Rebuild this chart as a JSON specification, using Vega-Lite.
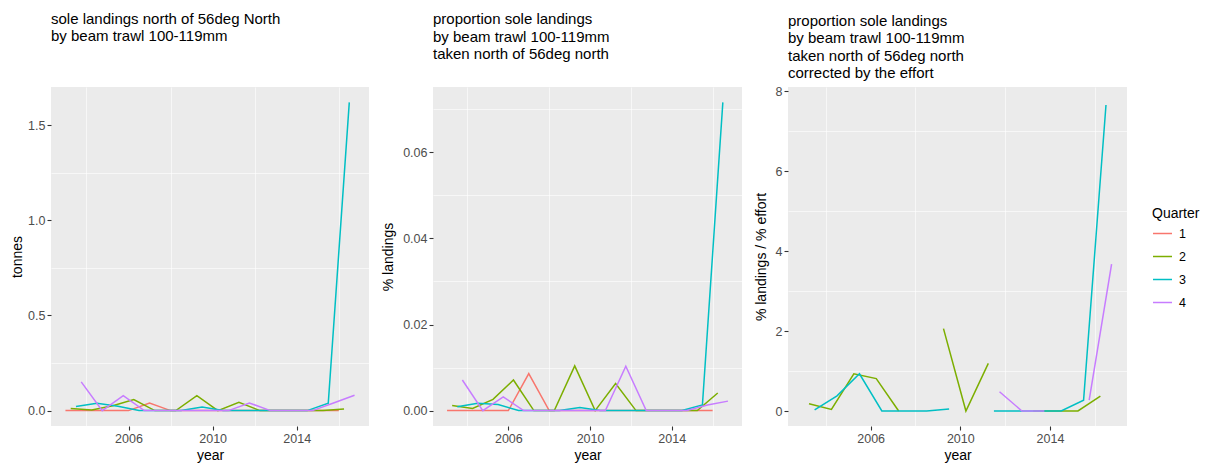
{
  "$schema": "https://vega.github.io/schema/vega-lite/v6.json",
  "padding": {"left": 10, "top": 11, "right": 0, "bottom": 0},
  "spacing": 12,
  "datasets": {
    "tonnes": [
      {"time": 2003.0, "Quarter": "1", "v": 0}, {"time": 2004.0, "Quarter": "1", "v": 0}, {"time": 2005.0, "Quarter": "1", "v": 0}, {"time": 2006.0, "Quarter": "1", "v": 0}, {"time": 2007.0, "Quarter": "1", "v": 0.04}, {"time": 2008.0, "Quarter": "1", "v": 0}, {"time": 2009.0, "Quarter": "1", "v": 0}, {"time": 2010.0, "Quarter": "1", "v": 0}, {"time": 2011.0, "Quarter": "1", "v": 0}, {"time": 2012.0, "Quarter": "1", "v": 0}, {"time": 2013.0, "Quarter": "1", "v": 0}, {"time": 2014.0, "Quarter": "1", "v": 0}, {"time": 2015.0, "Quarter": "1", "v": 0}, {"time": 2016.0, "Quarter": "1", "v": 0},
      {"time": 2003.25, "Quarter": "2", "v": 0.011}, {"time": 2004.25, "Quarter": "2", "v": 0.003}, {"time": 2005.25, "Quarter": "2", "v": 0.025}, {"time": 2006.25, "Quarter": "2", "v": 0.058}, {"time": 2007.25, "Quarter": "2", "v": 0}, {"time": 2008.25, "Quarter": "2", "v": 0}, {"time": 2009.25, "Quarter": "2", "v": 0.079}, {"time": 2010.25, "Quarter": "2", "v": 0}, {"time": 2011.25, "Quarter": "2", "v": 0.044}, {"time": 2012.25, "Quarter": "2", "v": 0}, {"time": 2013.25, "Quarter": "2", "v": 0}, {"time": 2014.25, "Quarter": "2", "v": 0}, {"time": 2015.25, "Quarter": "2", "v": 0}, {"time": 2016.25, "Quarter": "2", "v": 0.008},
      {"time": 2003.5, "Quarter": "3", "v": 0.021}, {"time": 2004.5, "Quarter": "3", "v": 0.039}, {"time": 2005.5, "Quarter": "3", "v": 0.023}, {"time": 2006.5, "Quarter": "3", "v": 0}, {"time": 2007.5, "Quarter": "3", "v": 0}, {"time": 2008.5, "Quarter": "3", "v": 0}, {"time": 2009.5, "Quarter": "3", "v": 0.019}, {"time": 2010.5, "Quarter": "3", "v": 0}, {"time": 2011.5, "Quarter": "3", "v": 0}, {"time": 2012.5, "Quarter": "3", "v": 0}, {"time": 2013.5, "Quarter": "3", "v": 0}, {"time": 2014.5, "Quarter": "3", "v": 0}, {"time": 2015.5, "Quarter": "3", "v": 0.039}, {"time": 2016.5, "Quarter": "3", "v": 1.62},
      {"time": 2003.75, "Quarter": "4", "v": 0.151}, {"time": 2004.75, "Quarter": "4", "v": 0}, {"time": 2005.75, "Quarter": "4", "v": 0.079}, {"time": 2006.75, "Quarter": "4", "v": 0}, {"time": 2007.75, "Quarter": "4", "v": 0}, {"time": 2008.75, "Quarter": "4", "v": 0}, {"time": 2009.75, "Quarter": "4", "v": 0}, {"time": 2010.75, "Quarter": "4", "v": 0}, {"time": 2011.75, "Quarter": "4", "v": 0.04}, {"time": 2012.75, "Quarter": "4", "v": 0}, {"time": 2013.75, "Quarter": "4", "v": 0}, {"time": 2014.75, "Quarter": "4", "v": 0}, {"time": 2015.75, "Quarter": "4", "v": 0.04}, {"time": 2016.75, "Quarter": "4", "v": 0.081}
    ],
    "proportion": [
      {"time": 2003.0, "Quarter": "1", "v": 0}, {"time": 2004.0, "Quarter": "1", "v": 0}, {"time": 2005.0, "Quarter": "1", "v": 0}, {"time": 2006.0, "Quarter": "1", "v": 0}, {"time": 2007.0, "Quarter": "1", "v": 0.0086}, {"time": 2008.0, "Quarter": "1", "v": 0}, {"time": 2009.0, "Quarter": "1", "v": 0}, {"time": 2010.0, "Quarter": "1", "v": 0}, {"time": 2011.0, "Quarter": "1", "v": 0}, {"time": 2012.0, "Quarter": "1", "v": 0}, {"time": 2013.0, "Quarter": "1", "v": 0}, {"time": 2014.0, "Quarter": "1", "v": 0}, {"time": 2015.0, "Quarter": "1", "v": 0}, {"time": 2016.0, "Quarter": "1", "v": 0},
      {"time": 2003.25, "Quarter": "2", "v": 0.0012}, {"time": 2004.25, "Quarter": "2", "v": 0.0005}, {"time": 2005.25, "Quarter": "2", "v": 0.0026}, {"time": 2006.25, "Quarter": "2", "v": 0.0071}, {"time": 2007.25, "Quarter": "2", "v": 0}, {"time": 2008.25, "Quarter": "2", "v": 0}, {"time": 2009.25, "Quarter": "2", "v": 0.0104}, {"time": 2010.25, "Quarter": "2", "v": 0}, {"time": 2011.25, "Quarter": "2", "v": 0.0063}, {"time": 2012.25, "Quarter": "2", "v": 0}, {"time": 2013.25, "Quarter": "2", "v": 0}, {"time": 2014.25, "Quarter": "2", "v": 0}, {"time": 2015.25, "Quarter": "2", "v": 0}, {"time": 2016.25, "Quarter": "2", "v": 0.0041},
      {"time": 2003.5, "Quarter": "3", "v": 0.0009}, {"time": 2004.5, "Quarter": "3", "v": 0.0017}, {"time": 2005.5, "Quarter": "3", "v": 0.0014}, {"time": 2006.5, "Quarter": "3", "v": 0}, {"time": 2007.5, "Quarter": "3", "v": 0}, {"time": 2008.5, "Quarter": "3", "v": 0}, {"time": 2009.5, "Quarter": "3", "v": 0.0007}, {"time": 2010.5, "Quarter": "3", "v": 0}, {"time": 2011.5, "Quarter": "3", "v": 0}, {"time": 2012.5, "Quarter": "3", "v": 0}, {"time": 2013.5, "Quarter": "3", "v": 0}, {"time": 2014.5, "Quarter": "3", "v": 0}, {"time": 2015.5, "Quarter": "3", "v": 0.0013}, {"time": 2016.5, "Quarter": "3", "v": 0.0716},
      {"time": 2003.75, "Quarter": "4", "v": 0.0071}, {"time": 2004.75, "Quarter": "4", "v": 0}, {"time": 2005.75, "Quarter": "4", "v": 0.0032}, {"time": 2006.75, "Quarter": "4", "v": 0}, {"time": 2007.75, "Quarter": "4", "v": 0}, {"time": 2008.75, "Quarter": "4", "v": 0}, {"time": 2009.75, "Quarter": "4", "v": 0}, {"time": 2010.75, "Quarter": "4", "v": 0}, {"time": 2011.75, "Quarter": "4", "v": 0.0103}, {"time": 2012.75, "Quarter": "4", "v": 0}, {"time": 2013.75, "Quarter": "4", "v": 0}, {"time": 2014.75, "Quarter": "4", "v": 0}, {"time": 2015.75, "Quarter": "4", "v": 0.0013}, {"time": 2016.75, "Quarter": "4", "v": 0.0022}
    ],
    "corrected": [
      {"time": 2003.0, "Quarter": "1", "v": null}, {"time": 2004.0, "Quarter": "1", "v": null}, {"time": 2005.0, "Quarter": "1", "v": null}, {"time": 2006.0, "Quarter": "1", "v": null}, {"time": 2007.0, "Quarter": "1", "v": null}, {"time": 2008.0, "Quarter": "1", "v": null}, {"time": 2009.0, "Quarter": "1", "v": null}, {"time": 2010.0, "Quarter": "1", "v": null}, {"time": 2011.0, "Quarter": "1", "v": null}, {"time": 2012.0, "Quarter": "1", "v": null}, {"time": 2013.0, "Quarter": "1", "v": null}, {"time": 2014.0, "Quarter": "1", "v": null}, {"time": 2015.0, "Quarter": "1", "v": null}, {"time": 2016.0, "Quarter": "1", "v": null},
      {"time": 2003.25, "Quarter": "2", "v": 0.18}, {"time": 2004.25, "Quarter": "2", "v": 0.04}, {"time": 2005.25, "Quarter": "2", "v": 0.93}, {"time": 2006.25, "Quarter": "2", "v": 0.81}, {"time": 2007.25, "Quarter": "2", "v": 0}, {"time": 2008.25, "Quarter": "2", "v": null}, {"time": 2009.25, "Quarter": "2", "v": 2.06}, {"time": 2010.25, "Quarter": "2", "v": 0}, {"time": 2011.25, "Quarter": "2", "v": 1.19}, {"time": 2012.25, "Quarter": "2", "v": null}, {"time": 2013.25, "Quarter": "2", "v": 0}, {"time": 2014.25, "Quarter": "2", "v": 0}, {"time": 2015.25, "Quarter": "2", "v": 0}, {"time": 2016.25, "Quarter": "2", "v": 0.37},
      {"time": 2003.5, "Quarter": "3", "v": 0.03}, {"time": 2004.5, "Quarter": "3", "v": 0.38}, {"time": 2005.5, "Quarter": "3", "v": 0.93}, {"time": 2006.5, "Quarter": "3", "v": 0}, {"time": 2007.5, "Quarter": "3", "v": 0}, {"time": 2008.5, "Quarter": "3", "v": 0}, {"time": 2009.5, "Quarter": "3", "v": 0.05}, {"time": 2010.5, "Quarter": "3", "v": null}, {"time": 2011.5, "Quarter": "3", "v": 0}, {"time": 2012.5, "Quarter": "3", "v": 0}, {"time": 2013.5, "Quarter": "3", "v": 0}, {"time": 2014.5, "Quarter": "3", "v": 0}, {"time": 2015.5, "Quarter": "3", "v": 0.27}, {"time": 2016.5, "Quarter": "3", "v": 7.65},
      {"time": 2003.75, "Quarter": "4", "v": null}, {"time": 2004.75, "Quarter": "4", "v": null}, {"time": 2005.75, "Quarter": "4", "v": null}, {"time": 2006.75, "Quarter": "4", "v": null}, {"time": 2007.75, "Quarter": "4", "v": null}, {"time": 2008.75, "Quarter": "4", "v": null}, {"time": 2009.75, "Quarter": "4", "v": null}, {"time": 2010.75, "Quarter": "4", "v": null}, {"time": 2011.75, "Quarter": "4", "v": 0.48}, {"time": 2012.75, "Quarter": "4", "v": 0}, {"time": 2013.75, "Quarter": "4", "v": 0}, {"time": 2014.75, "Quarter": "4", "v": null}, {"time": 2015.75, "Quarter": "4", "v": 0.27}, {"time": 2016.75, "Quarter": "4", "v": 3.67}
    ]
  },
  "hconcat": [
    {
      "width": 318,
      "height": 339,
      "title": {"text": ["sole landings north of 56deg North", "by beam trawl 100-119mm"], "offset": 43},
      "data": {"name": "tonnes"},
      "resolve": {"axis": {"x": "independent", "y": "independent"}},
      "layer": [
        {
          "mark": {"type": "line", "strokeOpacity": 0},
          "encoding": {
            "x": {"field": "time", "type": "quantitative", "scale": {"domain": [2002.3125, 2017.4375], "nice": false, "zero": false},
                  "axis": {"orient": "top", "values": [2004, 2008, 2012, 2016], "labels": false, "ticks": false, "title": null, "gridWidth": 0.6}},
            "y": {"field": "v", "type": "quantitative", "scale": {"domain": [-0.081, 1.701], "nice": false, "zero": false},
                  "axis": {"orient": "right", "values": [0.25, 0.75, 1.25], "labels": false, "ticks": false, "title": null, "gridWidth": 0.6}},
            "detail": {"field": "Quarter"}
          }
        },
        {
          "mark": {"type": "line", "strokeWidth": 1.5},
          "encoding": {
            "x": {"field": "time", "type": "quantitative", "scale": {"domain": [2002.3125, 2017.4375], "nice": false, "zero": false},
                  "axis": {"values": [2006, 2010, 2014], "format": "d", "title": "year"}},
            "y": {"field": "v", "type": "quantitative", "scale": {"domain": [-0.081, 1.701], "nice": false, "zero": false},
                  "axis": {"values": [0, 0.5, 1, 1.5], "format": ".1f", "title": "tonnes", "titlePadding": 3}},
            "color": {"field": "Quarter", "type": "nominal", "scale": {"domain": ["1", "2", "3", "4"], "range": ["#F8766D", "#7CAE00", "#00BFC4", "#C77CFF"]},
                      "legend": {"orient": "none", "legendX": 1101, "legendY": 120}}
          }
        }
      ]
    },
    {
      "width": 309,
      "height": 339,
      "title": {"text": ["proportion sole landings", "by beam trawl 100-119mm", "taken north of 56deg north"], "offset": 25},
      "data": {"name": "proportion"},
      "resolve": {"axis": {"x": "independent", "y": "independent"}},
      "layer": [
        {
          "mark": {"type": "line", "strokeOpacity": 0},
          "encoding": {
            "x": {"field": "time", "type": "quantitative", "scale": {"domain": [2002.3125, 2017.4375], "nice": false, "zero": false},
                  "axis": {"orient": "top", "values": [2004, 2008, 2012, 2016], "labels": false, "ticks": false, "title": null, "gridWidth": 0.6}},
            "y": {"field": "v", "type": "quantitative", "scale": {"domain": [-0.00358, 0.07518], "nice": false, "zero": false},
                  "axis": {"orient": "right", "values": [0.01, 0.03, 0.05, 0.07], "labels": false, "ticks": false, "title": null, "gridWidth": 0.6}},
            "detail": {"field": "Quarter"}
          }
        },
        {
          "mark": {"type": "line", "strokeWidth": 1.5},
          "encoding": {
            "x": {"field": "time", "type": "quantitative", "scale": {"domain": [2002.3125, 2017.4375], "nice": false, "zero": false},
                  "axis": {"values": [2006, 2010, 2014], "format": "d", "title": "year"}},
            "y": {"field": "v", "type": "quantitative", "scale": {"domain": [-0.00358, 0.07518], "nice": false, "zero": false},
                  "axis": {"values": [0, 0.02, 0.04, 0.06], "format": ".2f", "title": "% landings", "titlePadding": 7}},
            "color": {"field": "Quarter", "type": "nominal"}
          }
        }
      ]
    },
    {
      "width": 339,
      "height": 339,
      "title": {"text": ["proportion sole landings", "by beam trawl 100-119mm", " taken north of 56deg north", "corrected by the effort"], "offset": 4},
      "data": {"name": "corrected"},
      "resolve": {"axis": {"x": "independent", "y": "independent"}},
      "layer": [
        {
          "mark": {"type": "line", "strokeOpacity": 0},
          "encoding": {
            "x": {"field": "time", "type": "quantitative", "scale": {"domain": [2002.3125, 2017.4375], "nice": false, "zero": false},
                  "axis": {"orient": "top", "values": [2004, 2008, 2012, 2016], "labels": false, "ticks": false, "title": null, "gridWidth": 0.6}},
            "y": {"field": "v", "type": "quantitative", "scale": {"domain": [-0.375, 8.1], "nice": false, "zero": false},
                  "axis": {"orient": "right", "values": [1, 3, 5, 7], "labels": false, "ticks": false, "title": null, "gridWidth": 0.6}},
            "detail": {"field": "Quarter"}
          }
        },
        {
          "mark": {"type": "line", "strokeWidth": 1.5},
          "encoding": {
            "x": {"field": "time", "type": "quantitative", "scale": {"domain": [2002.3125, 2017.4375], "nice": false, "zero": false},
                  "axis": {"values": [2006, 2010, 2014], "format": "d", "title": "year"}},
            "y": {"field": "v", "type": "quantitative", "scale": {"domain": [-0.375, 8.1], "nice": false, "zero": false},
                  "axis": {"values": [0, 2, 4, 6, 8], "format": "d", "title": "% landings / % effort", "titlePadding": 7}},
            "color": {"field": "Quarter", "type": "nominal"}
          }
        }
      ]
    }
  ],
  "config": {
    "font": "Liberation Sans",
    "view": {"fill": "#EBEBEB", "stroke": null},
    "axis": {
      "domain": false, "grid": true, "gridColor": "#FFFFFF", "gridWidth": 1.3,
      "tickColor": "#333333", "tickSize": 4, "tickWidth": 1.1,
      "labelColor": "#4D4D4D", "labelFontSize": 12.5, "labelPadding": 2,
      "titleFontSize": 14, "titleFontWeight": "normal", "titleColor": "#000000", "titlePadding": 4
    },
    "title": {"fontSize": 15, "fontWeight": "normal", "anchor": "start", "frame": "group", "lineHeight": 17.5, "color": "#000000"},
    "legend": {
      "titleFontSize": 14, "titleFontWeight": "normal", "titleColor": "#000000", "titlePadding": 2,
      "labelFontSize": 12.5, "labelColor": "#000000", "labelOffset": 6,
      "symbolType": "stroke", "symbolSize": 360, "symbolStrokeWidth": 1.5, "rowPadding": 6, "padding": 0
    }
  }
}
